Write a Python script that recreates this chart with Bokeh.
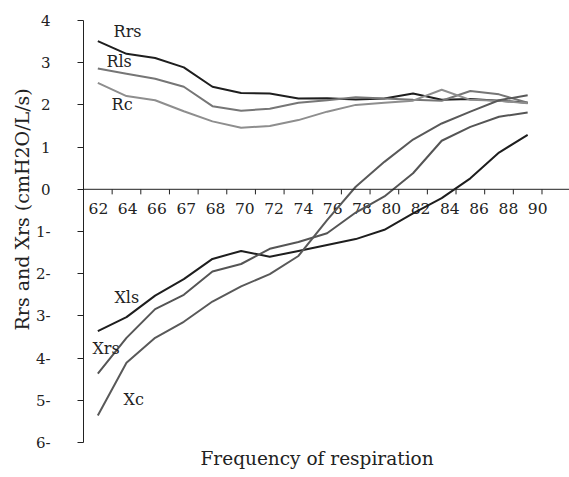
from bokeh.plotting import figure
from bokeh.models import FixedTicker, Span, Title, Range1d
from bokeh.core.properties import value
from bokeh.embed import file_html
from bokeh.resources import INLINE

categories = ["62", "64", "66", "67", "68", "70", "72", "74",
              "76", "78", "80", "82", "84", "86", "88", "90"]
Rrs = [3.51, 3.21, 3.11, 2.89, 2.43, 2.28, 2.27, 2.15, 2.16, 2.13, 2.15, 2.27, 2.12, 2.14, 2.10, 2.05]
Rls = [2.86, 2.74, 2.62, 2.43, 1.97, 1.86, 1.91, 2.05, 2.11, 2.18, 2.15, 2.12, 2.10, 2.33, 2.25, 2.05]
Rc = [2.52, 2.21, 2.11, 1.85, 1.61, 1.46, 1.50, 1.64, 1.84, 2.00, 2.05, 2.10, 2.36, 2.12, 2.10, 2.04]
Xls = [-3.36, -3.03, -2.52, -2.13, -1.65, -1.46, -1.60, -1.46, -1.32, -1.18, -0.96, -0.57, -0.21, 0.26, 0.87, 1.29]
Xrs = [-4.37, -3.52, -2.84, -2.50, -1.95, -1.77, -1.41, -1.25, -1.04, -0.55, -0.17, 0.38, 1.15, 1.48, 1.72, 1.82]
Xc = [-5.36, -4.11, -3.52, -3.14, -2.66, -2.30, -2.01, -1.58, -0.73, 0.06, 0.65, 1.18, 1.56, 1.84, 2.11, 2.23]
y_ticks = [-6, -5, -4, -3, -2, -1, 0, 1, 2, 3, 4]
y_tick_labels = ["6-", "5-", "4-", "3-", "2-", "1-", "0", "1", "2", "3", "4"]

series = [
    ("Rrs", Rrs, "#1e1e1e"),
    ("Rls", Rls, "#767676"),
    ("Rc", Rc, "#8e8e8e"),
    ("Xls", Xls, "#1e1e1e"),
    ("Xrs", Xrs, "#555555"),
    ("Xc", Xc, "#595959"),
]
# series name label placement (x in category index units, y in data units)
name_pos = {"Rrs": (0.55, 3.74), "Rls": (0.30, 3.04), "Rc": (0.48, 2.02),
            "Xls": (0.58, -2.57), "Xrs": (-0.19, -3.78), "Xc": (0.90, -4.98)}

FONT = "DejaVu Serif"
TXT = "#222222"
n = len(categories)
xs = list(range(n))

p = figure(width=569, height=477, output_backend="svg", toolbar_location=None,
           x_axis_location=None, min_border_left=83, min_border_right=0,
           min_border_top=20, min_border_bottom=35)
p.x_range = Range1d(-0.5, 16.46)
p.y_range = Range1d(-6, 4)
p.xgrid.visible = False
p.ygrid.visible = False
p.outline_line_color = None
p.background_fill_color = "white"
p.border_fill_color = "white"

ya = p.yaxis[0]
ya.ticker = FixedTicker(ticks=y_ticks)
ya.major_label_overrides = {t: l for t, l in zip(y_ticks, y_tick_labels)}
ya.minor_tick_line_color = None
ya.major_tick_in = 0
ya.major_tick_out = 6
ya.major_label_standoff = 27
ya.axis_line_color = "#222222"
ya.major_tick_line_color = "#222222"
ya.major_label_text_font = FONT
ya.major_label_text_font_size = "15px"
ya.major_label_text_color = TXT

# horizontal axis at y = 0
p.add_layout(Span(location=0, dimension="width", line_color="#222222", line_width=1))
bounds = [i + 0.5 for i in range(n)]
p.segment(x0=bounds, y0=[0] * n, x1=bounds, y1=[-0.12] * n, line_color="#222222", line_width=1)
label_x = [i * 1.022 + 0.02 for i in xs]
p.text(x=label_x, y=[0] * n, text=categories, text_font=value(FONT), text_font_size="15.5px",
       text_color=TXT, text_align="center", text_baseline="middle", y_offset=19)

for name, vals, col in series:
    p.line(xs, vals, line_color=col, line_width=2)

for name, vals, col in series:
    lx, ly = name_pos[name]
    p.text(x=[lx], y=[ly], text=[name], text_font=value(FONT), text_font_size="16px",
           text_color=TXT, text_align="left", text_baseline="middle")

p.add_layout(Title(text="Rrs and Xrs (cmH2O/L/s)", align="left", offset=112,
                   text_font=FONT, text_font_size="19px", text_font_style="normal",
                   text_color=TXT, standoff=0), "left")
p.add_layout(Title(text="Frequency of respiration", align="left", offset=117,
                   text_font=FONT, text_font_size="18.5px", text_font_style="normal",
                   text_color=TXT, standoff=6), "below")

open("out.html", "w").write(file_html(p, INLINE))
